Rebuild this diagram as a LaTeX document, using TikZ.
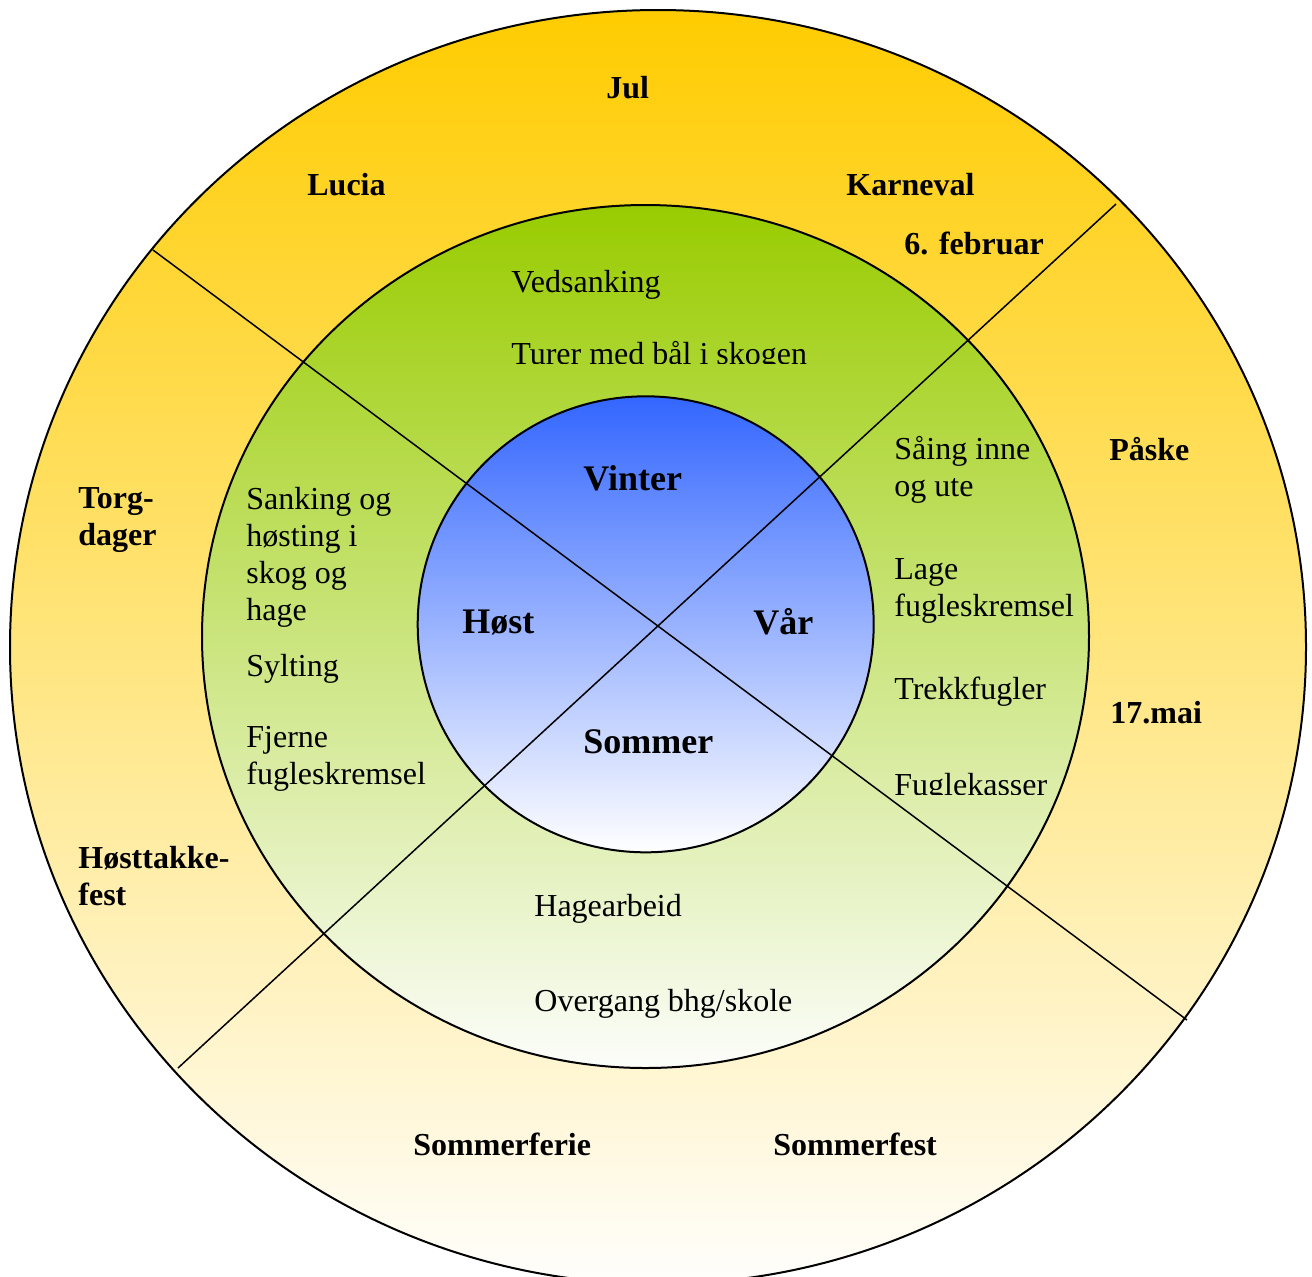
\documentclass[tikz,border=0pt]{standalone}
\usepackage{fontspec}
\setmainfont{Liberation Serif}
\usetikzlibrary{positioning}
\definecolor{julgul}{RGB}{255,204,0}
\definecolor{julfersken}{RGB}{255,224,162}
\definecolor{julkrem}{RGB}{255,254,252}
\definecolor{gress}{RGB}{153,204,0}
\definecolor{gressmidt}{RGB}{206,229,168}
\definecolor{gresslys}{RGB}{252,253,250}
\definecolor{himmel}{RGB}{51,102,255}
\definecolor{himmelmidt}{RGB}{165,180,255}
\tikzset{ring/.style = {draw, line width=1pt}}
\tikzset{deler/.style = {line width=0.75pt}}
\tikzset{hendelse/.style = {font=\fontsize{16}{18.5}\selectfont\bfseries,
                            inner sep=0pt, anchor=base west, align=left}}
\tikzset{aktivitet/.style = {font=\fontsize{16}{18.5}\selectfont,
                             inner sep=0pt, anchor=base west, align=left}}
\tikzset{arstid/.style = {font=\fontsize{18}{21}\selectfont\bfseries,
                          inner sep=0pt, anchor=base west}}

\begin{document}
\begin{tikzpicture}[x=0.5pt, y=-0.5pt]
	\useasboundingbox (0,0) rectangle (1312,1276);
	% ringene
	\draw[ring, top color=julgul, middle color=julfersken, bottom color=julkrem] (658,647) ellipse [x radius=324pt, y radius=318.5pt];
	\draw[ring, top color=gress, middle color=gressmidt, bottom color=gresslys] (645.5,636.5) ellipse [x radius=221.75pt, y radius=215.75pt];
	\draw[ring, top color=himmel, middle color=himmelmidt, bottom color=white] (645.7,624.3) circle [radius=114pt];
	% delelinjer
	\coordinate (nv) at (153,250);
	\coordinate (so) at (1187,1020);
	\coordinate (no) at (1116,204);
	\coordinate (sv) at (178,1068);
	\draw[deler] (nv) -- (so);
	\draw[deler] (no) -- (sv);
	% hendelser (base = siste linje)
	\node[hendelse] (jul) at (606,98) {Jul};
	\node[hendelse] (lucia) at (307,195) {Lucia};
	\node[hendelse] (karneval) at (846,195) {Karneval};
	\node[hendelse] (februar) at (904,254) {6. februar};
	\node[hendelse] (paske) at (1109,460) {Påske};
	\node[hendelse] (mai) at (1110,723) {17.mai};
	\node[hendelse] (torg) at (78,545) {Torg-\\dager};
	\node[hendelse] (takkefest) at (78,905) {Høsttakke-\\fest};
	\node[hendelse] (ferie) at (413,1155) {Sommerferie};
	\node[hendelse] (fest) at (773,1155) {Sommerfest};
	% aktiviteter
	\node[aktivitet] (ved) at (511,292) {Vedsanking};
	\begin{scope}
		\clip (400,300) rectangle (900,363);
		\node[aktivitet] (turer) at (511,364) {Turer med bål i skogen};
	\end{scope}
	\node[aktivitet] (sanking) at (246,620) {Sanking og\\høsting i\\skog og\\hage};
	\node[aktivitet] (sylting) at (246,676) {Sylting};
	\node[aktivitet] (fjerne) at (246,784) {Fjerne\\fugleskremsel};
	\node[aktivitet] (saing) at (894,496) {Såing inne\\og ute};
	\node[aktivitet] (lage) at (894,616) {Lage\\fugleskremsel};
	\node[aktivitet] (trekk) at (894,699) {Trekkfugler};
	\begin{scope}
		\clip (880,740) rectangle (1080,794);
		\node[aktivitet] (kasser) at (894,795) {Fuglekasser};
	\end{scope}
	\node[aktivitet] (hage) at (534,916) {Hagearbeid};
	\node[aktivitet] (overgang) at (534,1011) {Overgang bhg/skole};
	% årstider
	\node[arstid] (vinter) at (583,490) {Vinter};
	\node[arstid] (host) at (462,633) {Høst};
	\node[arstid] (var) at (753,634) {Vår};
	\node[arstid] (sommer) at (583,753) {Sommer};
\end{tikzpicture}
\end{document}
